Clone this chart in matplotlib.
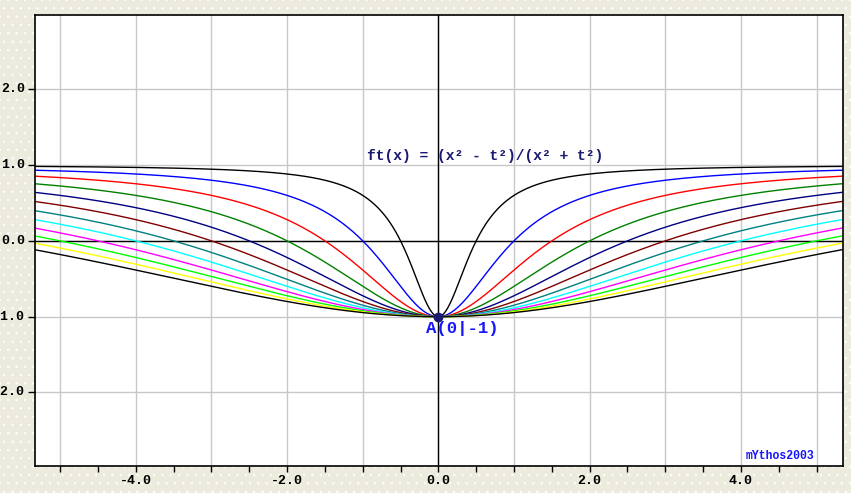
import numpy as np
import matplotlib
matplotlib.use("Agg")
import matplotlib.pyplot as plt

# Data: parameter values t of the curve family ft(x) = (x^2 - t^2)/(x^2 + t^2)
t_values = [0.5, 1.0, 1.5, 2.0, 2.5, 3.0, 3.5, 4.0, 4.5, 5.0, 5.5, 6.0]
curve_colors = ['#000000', '#0000ff', '#ff0000', '#008000', '#000080', '#800000',
                '#008080', '#00ffff', '#ff00ff', '#00ff00', '#ffff00', '#000000']
x_labels_at = [-4.0, -2.0, 0.0, 2.0, 4.0]
y_labels_at = [-2.0, -1.0, 0.0, 1.0, 2.0]
point_A = (0.0, -1.0)
title_text = "ft(x) = (x\u00b2 - t\u00b2)/(x\u00b2 + t\u00b2)"
point_label = "A(0|-1)"
credit = "mYthos2003"

xmin, xmax = -5.34, 5.35
ymin, ymax = -2.97, 2.98

plt.rcParams['hatch.color'] = '#d9d9cd'
plt.rcParams['hatch.linewidth'] = 0.5

fig = plt.figure(figsize=(8.51, 4.93), dpi=100)
fig.patch.set_facecolor('#ecebdd')
fig.patch.set_hatch('..')

ax = fig.add_axes([34.5 / 851, (493 - 466) / 493, (843 - 34.5) / 851, (466 - 15) / 493])
ax.set_facecolor('white')
ax.set_xlim(xmin, xmax)
ax.set_ylim(ymin, ymax)

# grid
ax.set_xticks(np.arange(-5, 5.5, 1.0), minor=False)
ax.set_xticks(np.arange(-5, 5.5, 0.5), minor=True)
ax.grid(True, which='major', color='#c8c8c8', lw=1.0)
ax.set_axisbelow(True)
ax.axhline(0, color='black', lw=1.0, zorder=1.5)
ax.axvline(0, color='black', lw=1.0, zorder=1.5)

xs = np.linspace(xmin, xmax, 2001)
for t, c in zip(t_values, curve_colors):
    ys = (xs ** 2 - t ** 2) / (xs ** 2 + t ** 2)
    ax.plot(xs, ys, color=c, lw=1.0, zorder=2)

ax.plot([point_A[0]], [point_A[1]], 'o', color='#1a1a70', ms=6, zorder=3)

mono = 'Liberation Mono'
ax.text(-0.94, 1.12, title_text, family=mono, fontweight='bold', fontsize=10.5,
        color='#1a1a70', va='center', ha='left', zorder=4)
ax.text(-0.16, -1.15, point_label, family=mono, fontweight='bold', fontsize=12.5,
        color='#1515ff', va='center', ha='left', zorder=4)
ax.text(4.06, -2.84, credit, family=mono, fontweight='bold', fontsize=8.3,
        color='#1515ff', va='center', ha='left', zorder=4)

# ticks: labels as text; tick marks
ax.set_xticklabels([])
ax.tick_params(axis='x', which='both', direction='out', length=4, width=1, color='black',
               labelbottom=False)
ax.set_yticks(y_labels_at)
ax.tick_params(axis='y', which='both', direction='out', length=5, width=1, color='black',
               labelleft=False)
ax.yaxis.grid(True, color='#c8c8c8', lw=1.0)

for xv in x_labels_at:
    ax.annotate(f"{xv:.1f}", xy=(xv, 0), xycoords=('data', 'axes fraction'),
                xytext=(0, -14.5 * 0.72), textcoords='offset points',
                family=mono, fontweight='bold', fontsize=9.5, ha='center', va='center',
                annotation_clip=False)
for yv in y_labels_at:
    ax.annotate(f"{yv:.1f}", xy=(0, yv), xycoords=('axes fraction', 'data'),
                xytext=(-9.5 * 0.72, 0), textcoords='offset points',
                family=mono, fontweight='bold', fontsize=9.5, ha='right', va='center',
                annotation_clip=False)

for s in ax.spines.values():
    s.set_color('black')
    s.set_linewidth(1.2)

fig.savefig('out.png', dpi=100, facecolor=fig.get_facecolor())
